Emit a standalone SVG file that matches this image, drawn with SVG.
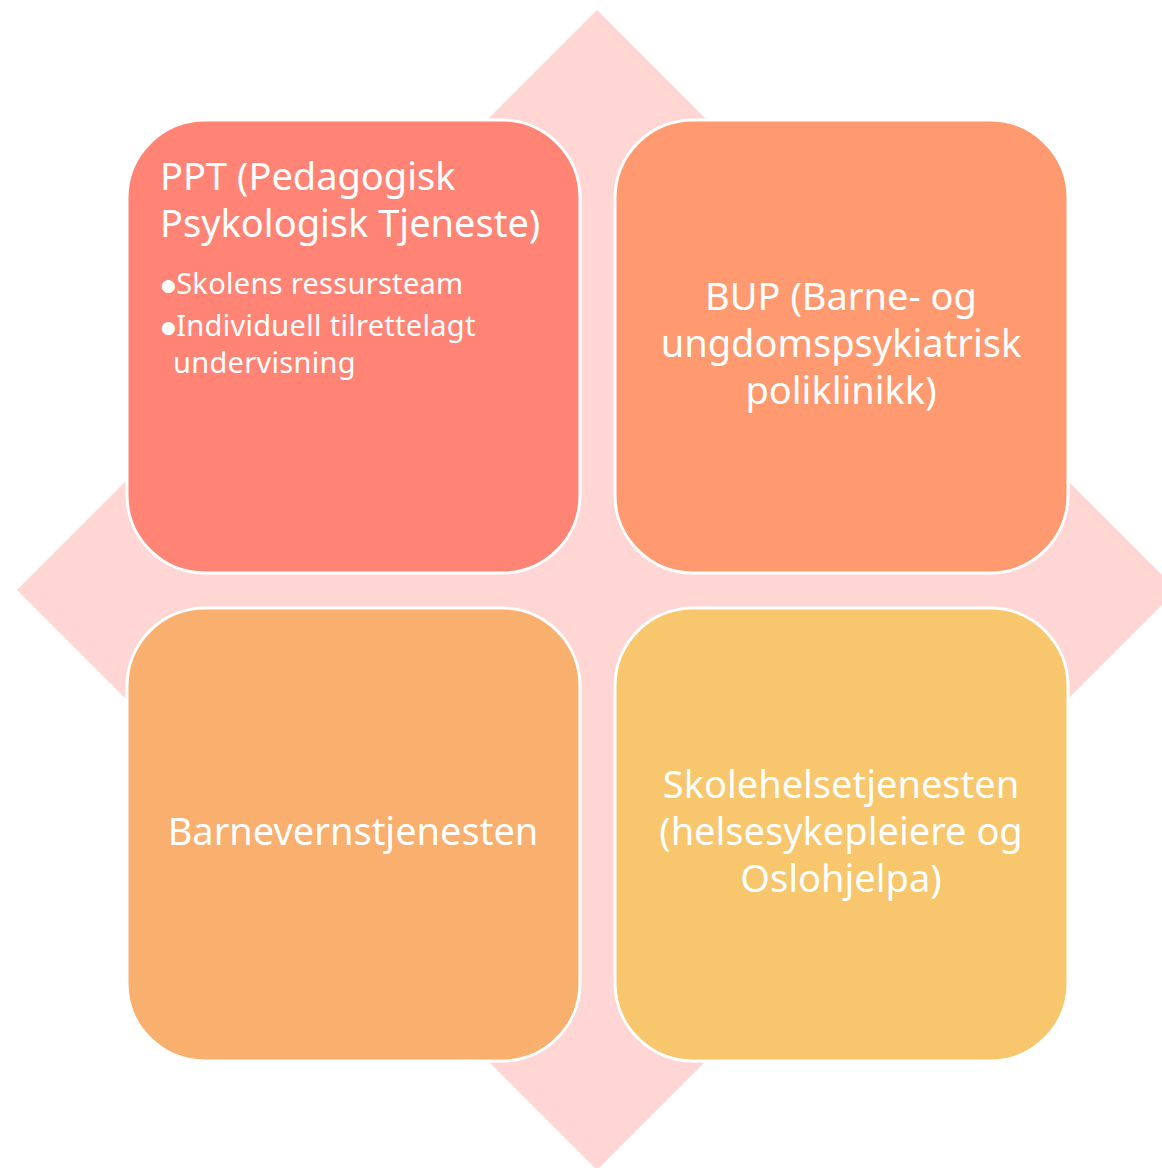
<svg xmlns="http://www.w3.org/2000/svg" width="1162" height="1168" viewBox="0 0 1162 1168">
<style>
.box{stroke:#ffffff;stroke-width:3}
.t{font-family:"Noto Sans","Open Sans",sans-serif;fill:#ffffff;font-size:38px}
.c{text-anchor:middle}
.b{font-size:29px;letter-spacing:0.3px}
.d{font-family:"DejaVu Sans",sans-serif;font-size:17px}
</style>
<rect width="1162" height="1168" fill="#ffffff"/>
<polygon id="diamond" points="597,10 1177,590 597,1170 17,590" fill="#FFD6D4"/>
<g id="ppt">
<rect class="box" x="127" y="120" width="453" height="453" rx="78" fill="#FF8475"/>
<text class="t" x="160" y="190">PPT (Pedagogisk</text>
<text class="t" x="160" y="237">Psykologisk Tjeneste)</text>
<text class="t b" x="161" y="294"><tspan class="d" dy="-3">●</tspan><tspan dy="3">Skolens ressursteam</tspan></text>
<text class="t b" x="161" y="336"><tspan class="d" dy="-3">●</tspan><tspan dy="3">Individuell tilrettelagt</tspan></text>
<text class="t b" x="173" y="373">undervisning</text>
</g>
<g id="bup">
<rect class="box" x="615" y="120" width="453" height="453" rx="78" fill="#FF9A70"/>
<text class="t c" x="841" y="310">BUP (Barne- og</text>
<text class="t c" x="841" y="357">ungdomspsykiatrisk</text>
<text class="t c" x="841" y="404">poliklinikk)</text>
</g>
<g id="barnevern">
<rect class="box" x="127" y="608" width="453" height="453" rx="78" fill="#F9AF6E"/>
<text class="t c" x="353" y="845">Barnevernstjenesten</text>
</g>
<g id="skolehelse">
<rect class="box" x="615" y="608" width="453" height="453" rx="78" fill="#F8C66C"/>
<text class="t c" x="841" y="798">Skolehelsetjenesten</text>
<text class="t c" x="841" y="845">(helsesykepleiere og</text>
<text class="t c" x="841" y="892">Oslohjelpa)</text>
</g>
<g id="connectors"></g>
</svg>
